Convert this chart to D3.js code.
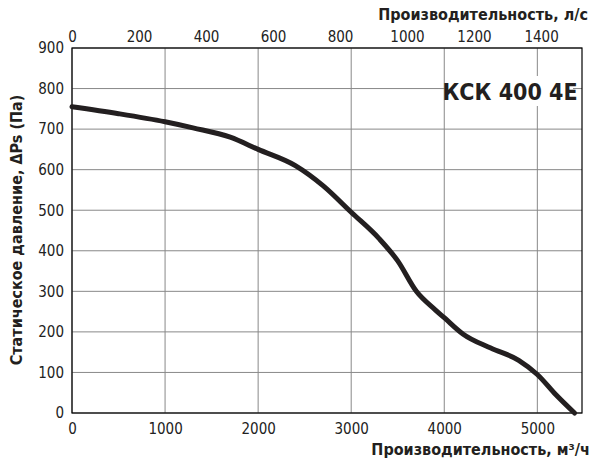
<!DOCTYPE html>
<html><head><meta charset="utf-8">
<script src="https://cdn.jsdelivr.net/npm/d3@7"></script>
<style>body{margin:0;background:#fff}text{font-family:"Liberation Sans Narrow","DejaVu Sans Condensed",sans-serif}</style>
</head><body><svg id="c" width="594" height="462"></svg>
<script>
const flowM3h=[0,500,1000,1300,1700,2000,2400,2700,3000,3300,3500,3700,3900,4000,4200,4500,4800,5000,5200,5400];
const pressurePa=[755,738,718,703,680,650,610,560,495,430,375,300,255,235,195,160,130,95,45,0];
const xTicks=[0,1000,2000,3000,4000,5000];
const yTicks=[0,100,200,300,400,500,600,700,800,900];
const topTicks=[0,200,400,600,800,1000,1200,1400];
const title="КСК 400 4Е";
const svg=d3.select("#c");
const L=72,R=582,T=48,B=413;
const x=d3.scaleLinear().domain([0,5480]).range([L,R]);
const y=d3.scaleLinear().domain([0,900]).range([B,T]);
const xt=d3.scaleLinear().domain([0,5480/3.6]).range([L,R]);
const fmt=d3.format("d");
const g=svg.append("g");
xTicks.forEach(v=>g.append("line").attr("x1",x(v)).attr("x2",x(v)).attr("y1",T).attr("y2",B).attr("stroke","#888").attr("stroke-width",1));
yTicks.forEach(v=>g.append("line").attr("x1",L).attr("x2",R).attr("y1",y(v)).attr("y2",y(v)).attr("stroke","#888").attr("stroke-width",1));
g.append("rect").attr("x",L).attr("y",T).attr("width",R-L).attr("height",B-T).attr("fill","none").attr("stroke","#000").attr("stroke-width",1.2);
const fs="15px";
svg.append("g").attr("transform",`translate(0,${B})`).call(d3.axisBottom(x).tickValues(xTicks).tickFormat(fmt).tickSize(0).tickPadding(10)).call(a=>{a.select(".domain").remove();a.selectAll("text").style("font-size",fs).attr("fill","#222");});
svg.append("g").attr("transform",`translate(${L},0)`).call(d3.axisLeft(y).tickValues(yTicks).tickFormat(fmt).tickSize(0).tickPadding(8)).call(a=>{a.select(".domain").remove();a.selectAll("text").style("font-size",fs).attr("fill","#222");});
svg.append("g").attr("transform",`translate(0,${T})`).call(d3.axisTop(xt).tickValues(topTicks).tickFormat(fmt).tickSize(0).tickPadding(6)).call(a=>{a.select(".domain").remove();a.selectAll("text").style("font-size",fs).attr("fill","#222");});
svg.append("path").datum(flowM3h.map((v,i)=>[v,pressurePa[i]])).attr("d",d3.line().x(d=>x(d[0])).y(d=>y(d[1])).curve(d3.curveMonotoneX)).attr("fill","none").attr("stroke","#231f20").attr("stroke-width",5).attr("stroke-linecap","round");
svg.append("rect").attr("x",445).attr("y",76).attr("width",128).attr("height",30).attr("fill","#fff");
svg.append("text").attr("x",510).attr("y",100).attr("text-anchor","middle").style("font-size","23px").style("font-weight","bold").attr("fill","#231f20").text(title);
svg.append("text").attr("x",590).attr("y",455).attr("text-anchor","end").style("font-size","16px").style("font-weight","bold").attr("fill","#231f20").text("Производительность, м³/ч");
svg.append("text").attr("x",588).attr("y",20).attr("text-anchor","end").style("font-size","16px").style("font-weight","bold").attr("fill","#231f20").text("Производительность, л/с");
svg.append("text").attr("transform","translate(22,230) rotate(-90)").attr("text-anchor","middle").style("font-size","16px").style("font-weight","bold").attr("fill","#231f20").text("Статическое давление, ΔPs (Па)");
</script></body></html>
